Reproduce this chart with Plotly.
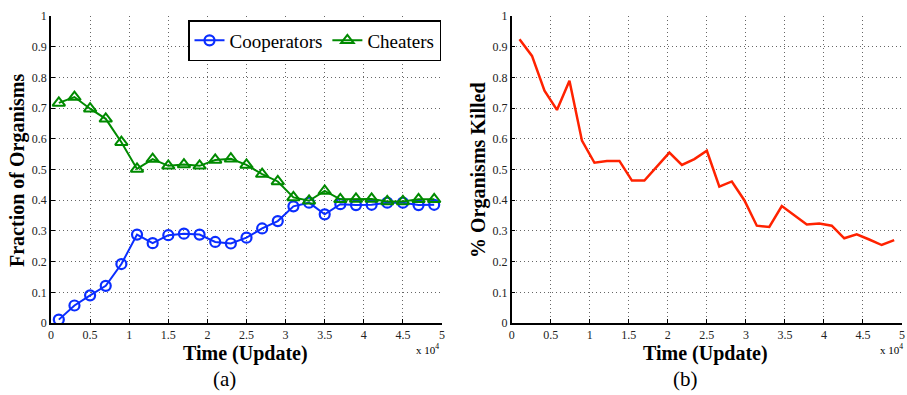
import plotly.graph_objects as go

# ---- data ----
time_a = [1000 + 2000 * i for i in range(25)]
cooperators = [0.011, 0.057, 0.090, 0.121, 0.192, 0.288, 0.260, 0.286, 0.291, 0.288,
               0.264, 0.259, 0.278, 0.308, 0.332, 0.380, 0.392, 0.354, 0.387, 0.384,
               0.385, 0.392, 0.392, 0.384, 0.385]
cheaters = [0.717, 0.736, 0.698, 0.665, 0.589, 0.502, 0.534, 0.512, 0.516, 0.512,
            0.531, 0.535, 0.515, 0.485, 0.461, 0.409, 0.398, 0.430, 0.403, 0.404,
            0.404, 0.396, 0.396, 0.403, 0.403]

time_b = [1000 + 1600 * i for i in range(31)]
killed = [0.924, 0.870, 0.757, 0.694, 0.789, 0.594, 0.522, 0.528, 0.528, 0.464,
          0.464, 0.510, 0.555, 0.515, 0.534, 0.561, 0.444, 0.461, 0.400, 0.317,
          0.313, 0.381, 0.351, 0.321, 0.324, 0.317, 0.276, 0.289, 0.272, 0.254,
          0.270]

x_tickvals = [0, 5000, 10000, 15000, 20000, 25000, 30000, 35000, 40000, 45000, 50000]
x_ticktext = ["0", "0.5", "1", "1.5", "2", "2.5", "3", "3.5", "4", "4.5", "5"]
y_tickvals = [0, 0.1, 0.2, 0.3, 0.4, 0.5, 0.6, 0.7, 0.8, 0.9, 1]
y_ticktext = ["0", "0.1", "0.2", "0.3", "0.4", "0.5", "0.6", "0.7", "0.8", "0.9", "1"]

W, H = 907, 395
FONT = "Liberation Serif, Times New Roman, Times, serif"
BLUE = "#0a2dff"
GREEN = "#008a00"
RED = "#ff2200"

fig = go.Figure()
fig.add_trace(go.Scatter(x=time_a, y=cooperators, name="Cooperators", mode="lines+markers",
                         line=dict(color=BLUE, width=2),
                         marker=dict(symbol="circle-open", size=10, color=BLUE, line=dict(width=2.2)),
                         xaxis="x", yaxis="y"))
fig.add_trace(go.Scatter(x=time_a, y=cheaters, name="Cheaters", mode="lines+markers",
                         line=dict(color=GREEN, width=2),
                         marker=dict(symbol="triangle-up-open", size=11, color=GREEN, line=dict(width=2)),
                         xaxis="x", yaxis="y"))
fig.add_trace(go.Scatter(x=time_b, y=killed, name="Killed", mode="lines", showlegend=False,
                         line=dict(color=RED, width=2.5),
                         xaxis="x2", yaxis="y2"))

def xdom(a, b):
    return [a / W, b / W]

ydom = [1 - 323 / H, 1 - 16 / H]

GRID = dict(showgrid=True, gridcolor="#666666", griddash="1px,3px", gridwidth=1,
            showline=True, linecolor="black", linewidth=1.5, zeroline=False,
            ticks="inside", ticklen=4, tickcolor="black",
            tickfont=dict(family=FONT, size=12, color="#222"), automargin=False)
common_x = dict(range=[0, 50000], tickvals=x_tickvals, ticktext=x_ticktext, **GRID)
common_y = dict(range=[0, 1], tickvals=y_tickvals, ticktext=y_ticktext, **GRID)

fig.update_layout(
    width=W, height=H,
    margin=dict(l=0, r=0, t=0, b=0),
    paper_bgcolor="white", plot_bgcolor="white",
    font=dict(family=FONT, color="black"),
    xaxis=dict(domain=xdom(51, 442), anchor="y", **common_x),
    yaxis=dict(domain=ydom, anchor="x", **common_y),
    xaxis2=dict(domain=xdom(511.7, 902), anchor="y2", **common_x),
    yaxis2=dict(domain=ydom, anchor="x2", **common_y),
    legend=dict(x=441 / W, y=1 - 20 / H, xanchor="right", yanchor="top",
                orientation="h", bgcolor="white", bordercolor="black", borderwidth=1.5,
                font=dict(family=FONT, size=19, color="black"),
                itemwidth=30, tracegroupgap=0),
    showlegend=True,
)

def ann(text, x, y, size, bold=False, angle=0):
    if bold:
        text = "<b>" + text + "</b>"
    fig.add_annotation(text=text, x=x / W, y=1 - y / H, xref="paper", yref="paper",
                       showarrow=False, textangle=angle, xanchor="center", yanchor="middle",
                       font=dict(family=FONT, size=size, color="black"))

ann("Fraction of Organisms", 17, 170, 20, bold=True, angle=-90)
ann("% Organisms Killed", 478, 170, 20, bold=True, angle=-90)
ann("Time (Update)", 245, 353, 20, bold=True)
ann("Time (Update)", 705, 353, 20, bold=True)
ann("x 10<sup>4</sup>", 427, 349, 11)
ann("x 10<sup>4</sup>", 891, 349, 11)
ann("(a)", 224, 379, 21)
ann("(b)", 685, 379, 21)

fig.write_html("out.html", config={"displayModeBar": False},
               post_script="document.body.style.margin='0';document.body.style.overflow='hidden';")
